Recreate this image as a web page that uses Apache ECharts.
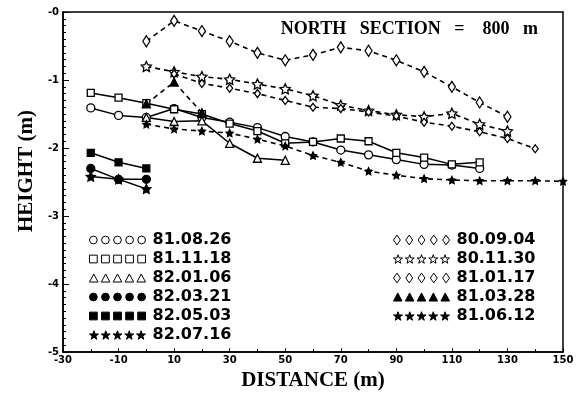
<!DOCTYPE html>
<html><head><meta charset="utf-8">
<script src="https://cdn.jsdelivr.net/npm/echarts@6/dist/echarts.min.js"></script>
<style>html,body{margin:0;padding:0;background:#fff}#c{width:586px;height:396px}</style>
</head><body><div id="c"></div>
<script>
// ---- data ----
const xTicks = [-30,-10,10,30,50,70,90,110,130,150];
const yTicks = [0,-1,-2,-3,-4,-5];

const x_800904 = [0,10,20,30,40,50,60,70,80,90,100,110,120,130];
const h_800904 = [-0.43,-0.13,-0.28,-0.43,-0.60,-0.71,-0.63,-0.52,-0.57,-0.71,-0.88,-1.10,-1.33,-1.54];

const x_801130 = [0,10,20,30,40,50,60,70,80,90,100,110,120,130];
const h_801130 = [-0.80,-0.88,-0.95,-0.99,-1.06,-1.13,-1.23,-1.37,-1.45,-1.51,-1.54,-1.49,-1.65,-1.75];

const x_810117 = [10,20,30,40,50,60,70,80,90,100,110,120,130,140];
const h_810117 = [-0.91,-1.05,-1.12,-1.20,-1.30,-1.40,-1.42,-1.47,-1.53,-1.62,-1.68,-1.76,-1.86,-2.01];

const x_810328 = [0,10,20];
const h_810328 = [-1.35,-1.03,-1.48];

const x_810612 = [0,10,20,30,40,50,60,70,80,90,100,110,120,130,140,150];
const h_810612 = [-1.65,-1.72,-1.75,-1.78,-1.87,-1.97,-2.11,-2.21,-2.34,-2.40,-2.45,-2.47,-2.48,-2.48,-2.48,-2.49];

const x_810826 = [-20,-10,0,10,20,30,40,50,60,70,80,90,100,110,120];
const h_810826 = [-1.41,-1.52,-1.55,-1.42,-1.55,-1.62,-1.70,-1.83,-1.91,-2.03,-2.10,-2.17,-2.24,-2.25,-2.30];

const x_811118 = [-20,-10,0,10,20,30,40,50,60,70,80,90,100,110,120];
const h_811118 = [-1.19,-1.26,-1.34,-1.43,-1.50,-1.64,-1.75,-1.93,-1.91,-1.86,-1.90,-2.07,-2.14,-2.24,-2.21];

const x_820106 = [0,10,20,30,40,50];
const h_820106 = [-1.55,-1.61,-1.60,-1.93,-2.15,-2.18];

const x_820321 = [-20,-10,0];
const h_820321 = [-2.30,-2.46,-2.46];

const x_820503 = [-20,-10,0];
const h_820503 = [-2.07,-2.21,-2.30];

const x_820716 = [-20,-10,0];
const h_820716 = [-2.42,-2.46,-2.60];

const names = ['81.08.26','81.11.18','82.01.06','82.03.21','82.05.03','82.07.16',
               '80.09.04','80.11.30','81.01.17','81.03.28','81.06.12'];

// ---- helpers ----
const pair = (xs, ys) => xs.map((x, i) => [x, ys[i]]);
const STAR = 'path://M0,-10L2.94,-4.05L9.51,-3.09L4.76,1.55L5.88,8.09L0,5L-5.88,8.09L-4.76,1.55L-9.51,-3.09L-2.94,-4.05Z';

function rowPath(kind){
  let p = '';
  for (let i = 0; i < 5; i++) {
    const cx = 5 + i * 12.5, cy = 5;
    if (kind === 'circle') p += `M${cx-4},${cy}A4,4,0,1,0,${cx+4},${cy}A4,4,0,1,0,${cx-4},${cy}Z`;
    else if (kind === 'rect') p += `M${cx-4},${cy-4}L${cx+4},${cy-4}L${cx+4},${cy+4}L${cx-4},${cy+4}Z`;
    else if (kind === 'tri') p += `M${cx},${cy-4.5}L${cx+4.5},${cy+4}L${cx-4.5},${cy+4}Z`;
    else if (kind === 'diamond') p += `M${cx},${cy-5}L${cx+3.5},${cy}L${cx},${cy+5}L${cx-3.5},${cy}Z`;
    else if (kind === 'star') {
      const pts = [];
      for (let k = 0; k < 10; k++) {
        const r = k % 2 ? 2 : 5, a = -Math.PI/2 + k*Math.PI/5;
        pts.push((cx + r*Math.cos(a)).toFixed(2) + ',' + (cy + r*Math.sin(a)).toFixed(2));
      }
      p += 'M' + pts.join('L') + 'Z';
    }
  }
  return 'path://' + p;
}

function mk(name, xs, ys, symbol, size, filled, dashed){
  return {
    name, type:'line', data: pair(xs, ys), symbol, symbolSize: size,
    showSymbol: true, smooth: false, z: 3,
    lineStyle: {color:'#000', width: dashed ? 1.6 : 1.5, type: dashed ? [5,4] : 'solid'},
    itemStyle: {color: filled ? '#000' : '#fff', borderColor:'#000', borderWidth: 1.3},
    emphasis: {disabled:true}
  };
}

const series = [
  mk('81.08.26', x_810826, h_810826, 'circle', 8, false, false),
  mk('81.11.18', x_811118, h_811118, 'rect', 7, false, false),
  mk('82.01.06', x_820106, h_820106, 'triangle', 8, false, false),
  mk('82.03.21', x_820321, h_820321, 'circle', 8, true, false),
  mk('82.05.03', x_820503, h_820503, 'rect', 7, true, false),
  mk('82.07.16', x_820716, h_820716, STAR, 9, true, false),
  mk('80.09.04', x_800904, h_800904, 'diamond', [7,11], false, true),
  mk('80.11.30', x_801130, h_801130, STAR, 10, false, true),
  mk('81.01.17', x_810117, h_810117, 'diamond', [6,8], false, true),
  mk('81.03.28', x_810328, h_810328, 'triangle', 8, true, true),
  mk('81.06.12', x_810612, h_810612, STAR, 7, true, true)
];

const legendKinds = {
  '81.08.26':['circle',false],'81.11.18':['rect',false],'82.01.06':['tri',false],
  '82.03.21':['circle',true],'82.05.03':['rect',true],'82.07.16':['star',true],
  '80.09.04':['diamond',false],'80.11.30':['star',false],'81.01.17':['diamond',false],
  '81.03.28':['tri',true],'81.06.12':['star',true]
};
function legendData(list){
  return list.map(n => ({
    name: n, icon: rowPath(legendKinds[n][0]),
    itemStyle: {color: legendKinds[n][1] ? '#000' : '#fff', borderColor:'#000', borderWidth:1}
  }));
}
const legendText = {color:'#000', fontFamily:'DejaVu Sans', fontWeight:'bold', fontSize:16, padding:[0,0,0,2]};

const chart = echarts.init(document.getElementById('c'), null, {renderer:'canvas'});
chart.setOption({
  animation:false,
  backgroundColor:'#fff',
  title:{text:'NORTH   SECTION   =    800   m', right:43, top:15,
    textStyle:{fontFamily:'Liberation Serif', fontWeight:'bold', fontSize:18, color:'#000'}},
  grid:{left:63, right:23, top:12, bottom:26, show:true, borderColor:'#000', borderWidth:1.5, backgroundColor:'transparent'},
  legend:[
    {data: legendData(names.slice(0,6)), orient:'vertical', left:84, top:227, itemGap:3,
     itemWidth:56, itemHeight:10, textStyle:legendText, selectedMode:false},
    {data: legendData(names.slice(6)), orient:'vertical', left:388, top:227, itemGap:3,
     itemWidth:56, itemHeight:10, textStyle:legendText, selectedMode:false}
  ],
  xAxis:{type:'value', min:-30, max:150, interval:20,
    name:'DISTANCE (m)', nameLocation:'middle', nameGap:16,
    nameTextStyle:{fontFamily:'Liberation Serif', fontWeight:'bold', fontSize:21, color:'#000'},
    axisLine:{show:true, onZero:false, lineStyle:{color:'#000', width:1.5}},
    axisTick:{show:true, inside:true, length:4, lineStyle:{color:'#000'}},
    minorTick:{show:true, splitNumber:2, length:3, lineStyle:{color:'#000'}},
    splitLine:{show:false},
    axisLabel:{margin:3, color:'#000', fontFamily:'DejaVu Sans', fontWeight:'bold', fontSize:10,
      formatter: v => String(v)}
  },
  yAxis:{type:'value', min:-5, max:0, interval:1,
    name:'HEIGHT (m)', nameLocation:'middle', nameGap:22, nameRotate:90,
    nameTextStyle:{fontFamily:'Liberation Serif', fontWeight:'bold', fontSize:21, color:'#000', padding:[0,0,0,22]},
    axisLine:{show:true, onZero:false, lineStyle:{color:'#000', width:1.5}},
    axisTick:{show:true, inside:true, length:6, lineStyle:{color:'#000'}},
    minorTick:{show:true, splitNumber:10, length:3, lineStyle:{color:'#000'}},
    splitLine:{show:false},
    axisLabel:{margin:4, color:'#000', fontFamily:'DejaVu Sans', fontWeight:'bold', fontSize:10,
      formatter: v => (v === 0 ? '-0' : String(v))}
  },
  series
});
</script></body></html>
